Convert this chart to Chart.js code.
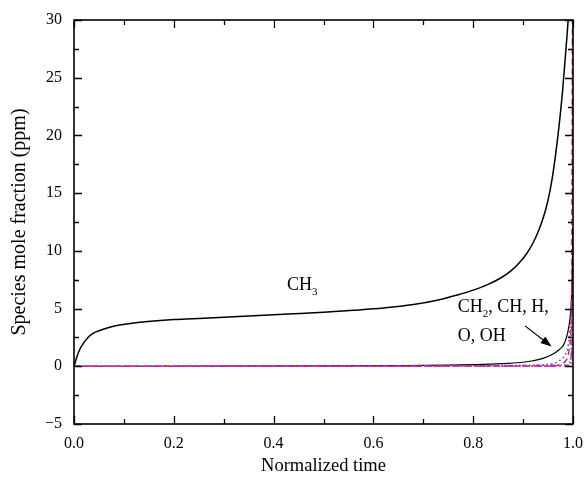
<!DOCTYPE html>
<html><head><meta charset="utf-8">
<script src="https://cdn.jsdelivr.net/npm/chart.js@4/dist/chart.umd.min.js"></script>
<style>html,body{margin:0;padding:0;background:#fff}canvas{display:block}</style>
</head><body>
<canvas id="c" width="585" height="481"></canvas>
<script>
const FONT = '"Liberation Serif","Times New Roman",serif';

// Axis ticks
const xTickValues = [0, 0.2, 0.4, 0.6, 0.8, 1.0];
const yTickValues = [-5, 0, 5, 10, 15, 20, 25, 30];

// CH3 (black solid)
const tCH3 = [0, 0.006, 0.012, 0.019, 0.028, 0.039, 0.05, 0.06, 0.075, 0.092, 0.12, 0.16, 0.2, 0.26, 0.32, 0.38, 0.44, 0.5, 0.56, 0.62, 0.68, 0.73, 0.77, 0.8, 0.83, 0.855, 0.875, 0.892, 0.907, 0.92, 0.931, 0.941, 0.95, 0.958, 0.965, 0.972, 0.979, 0.985, 0.991, 0.997];
const vCH3 = [0, 0.85, 1.5, 2.0, 2.5, 2.87, 3.08, 3.23, 3.42, 3.58, 3.76, 3.93, 4.05, 4.17, 4.3, 4.43, 4.55, 4.68, 4.85, 5.05, 5.35, 5.75, 6.2, 6.6, 7.1, 7.65, 8.25, 8.95, 9.75, 10.7, 11.75, 12.95, 14.4, 16.2, 18.3, 20.8, 23.8, 27.0, 30.5, 36];
// CH2 (black thin)
const tCH2 = [0, 0.3, 0.5, 0.65, 0.75, 0.82, 0.87, 0.9, 0.92, 0.94, 0.955, 0.965, 0.974, 0.981, 0.987, 0.992, 0.995, 0.998, 1.0];
const vCH2 = [0, 0.01, 0.03, 0.06, 0.1, 0.16, 0.25, 0.35, 0.48, 0.68, 0.95, 1.2, 1.5, 1.85, 2.5, 3.5, 4.6, 7, 12];
// CH (blue dotted)
const tCH = [0, 0.85, 0.9, 0.93, 0.95, 0.965, 0.975, 0.983, 0.99, 0.994, 0.997, 1.0];
const vCH = [0, 0.03, 0.06, 0.1, 0.17, 0.3, 0.55, 0.9, 1.7, 3.1, 4.6, 6.5];
// H (red dashed)
const tH = [0, 0.95, 0.97, 0.98, 0.986, 0.99, 0.993, 0.996, 0.9975, 0.999];
const vH = [0, 0.02, 0.08, 0.25, 0.5, 0.85, 1.7, 3.5, 9, 34];
// O (magenta dash-dot)
const tO = [0, 0.996, 0.998, 1.004, 1.005];
const vO = [0, 0, 5.2, 5.2, 0];
// OH (purple dash-dot-dot)
const tOH = [0, 0.99, 0.996, 1.0];
const vOH = [0, 0.1, 0.8, 2.5];

// Annotations (text parts: [text, isSubscript]) and anchor in data units
const labelCH3 = [['CH', false], ['3', true]];
const labelCH3At = [0.427, 6.62];
const labelGroup1 = [['CH', false], ['2', true], [', CH, H,', false]];
const labelGroup1At = [0.769, 4.72];
const labelGroup2 = [['O, OH', false]];
const labelGroup2At = [0.769, 2.23];
const arrowFrom = [0.904, 3.5];
const arrowTo = [0.957, 1.71];

const pts = (t, v) => t.map((x, i) => ({x, y: v[i]}));

const annPlugin = {
  id: 'ann',
  afterDatasetsDraw(chart) {
    const {ctx, chartArea: a, scales: {x, y}} = chart;
    ctx.save();
    ctx.strokeStyle = '#000';
    ctx.lineWidth = 1.6;
    ctx.strokeRect(a.left, a.top, a.right - a.left, a.bottom - a.top);
    ctx.lineWidth = 1.3;
    ctx.beginPath();
    const yStep = (yTickValues[1] - yTickValues[0]) / 2;
    for (let v = yTickValues[0], i = 0; v <= yTickValues[yTickValues.length - 1] + 1e-9; v += yStep, i++) {
      const py = Math.round(y.getPixelForValue(v)) + 0.5;
      const len = i % 2 === 0 ? 8 : 5;
      ctx.moveTo(a.left, py); ctx.lineTo(a.left + len, py);
      ctx.moveTo(a.right, py); ctx.lineTo(a.right - len, py);
    }
    const xStep = (xTickValues[1] - xTickValues[0]) / 2;
    for (let v = xTickValues[0], i = 0; v <= xTickValues[xTickValues.length - 1] + 1e-9; v += xStep, i++) {
      const px = Math.round(x.getPixelForValue(v)) + 0.5;
      const len = i % 2 === 0 ? 8 : 5;
      ctx.moveTo(px, a.bottom); ctx.lineTo(px, a.bottom - len);
      ctx.moveTo(px, a.top); ctx.lineTo(px, a.top + len);
    }
    ctx.stroke();

    ctx.fillStyle = '#000';
    ctx.textBaseline = 'alphabetic';
    ctx.textAlign = 'left';
    const drawParts = (parts, at) => {
      let px = x.getPixelForValue(at[0]);
      const py = y.getPixelForValue(at[1]);
      parts.forEach(([txt, sub]) => {
        ctx.font = (sub ? '11px ' : '18px ') + FONT;
        ctx.fillText(txt, px, sub ? py + 5 : py);
        px += ctx.measureText(txt).width;
      });
    };
    drawParts(labelCH3, labelCH3At);
    drawParts(labelGroup1, labelGroup1At);
    drawParts(labelGroup2, labelGroup2At);

    const x1 = x.getPixelForValue(arrowFrom[0]), y1 = y.getPixelForValue(arrowFrom[1]);
    const x2 = x.getPixelForValue(arrowTo[0]), y2 = y.getPixelForValue(arrowTo[1]);
    const ang = Math.atan2(y2 - y1, x2 - x1);
    const hl = 11, hw = 4;
    const bx = x2 - hl * Math.cos(ang), by = y2 - hl * Math.sin(ang);
    ctx.lineWidth = 1.2;
    ctx.beginPath(); ctx.moveTo(x1, y1); ctx.lineTo(bx, by); ctx.stroke();
    ctx.beginPath();
    ctx.moveTo(x2, y2);
    ctx.lineTo(bx + hw * Math.sin(ang), by - hw * Math.cos(ang));
    ctx.lineTo(bx - hw * Math.sin(ang), by + hw * Math.cos(ang));
    ctx.closePath(); ctx.fill();
    ctx.restore();
  }
};

const common = {pointRadius: 0, fill: false, tension: 0, cubicInterpolationMode: 'monotone'};

new Chart(document.getElementById('c'), {
  type: 'line',
  data: {
    datasets: [
      {...common, label: 'CH3', data: pts(tCH3, vCH3), borderColor: '#000', borderWidth: 1.5, order: 0},
      {...common, label: 'CH2', data: pts(tCH2, vCH2), borderColor: '#000', borderWidth: 1.2, order: 5},
      {...common, label: 'CH', data: pts(tCH, vCH), borderColor: '#3a55d0', borderWidth: 1.6, borderDash: [1.5, 3], order: 3},
      {...common, label: 'H', data: pts(tH, vH), borderColor: '#e8202a', borderWidth: 1.4, borderDash: [6, 4], order: 2},
      {...common, label: 'OH', data: pts(tOH, vOH), borderColor: '#7a2aa0', borderWidth: 1.3, borderDash: [5, 2, 1.5, 2, 1.5, 2], order: 4},
      {...common, label: 'O', data: pts(tO, vO), borderColor: '#d030d0', borderWidth: 1.4, borderDash: [6, 3, 2, 3], order: 1, cubicInterpolationMode: 'default', clip: {left: 0, top: 0, right: 6, bottom: 0}}
    ]
  },
  options: {
    responsive: false,
    animation: false,
    devicePixelRatio: 1,
    layout: {padding: {top: 20, right: 12, left: 0, bottom: 0}},
    plugins: {legend: {display: false}, tooltip: {enabled: false}},
    scales: {
      x: {
        type: 'linear', min: 0, max: 1,
        grid: {display: false, drawTicks: false},
        border: {display: false},
        afterBuildTicks: s => { s.ticks = xTickValues.map(v => ({value: v})); },
        afterFit: s => { s.height = 57; s.paddingLeft = 0; s.paddingRight = 0; },
        ticks: {padding: 10, color: '#000', font: {family: FONT, size: 16}, maxRotation: 0, autoSkip: false,
          callback: v => Number(v).toFixed(1)},
        title: {display: true, text: 'Normalized time', color: '#000', font: {family: FONT, size: 18.5}, padding: {top: 0, bottom: 4}}
      },
      y: {
        type: 'linear', min: -5, max: 30,
        grid: {display: false, drawTicks: false},
        border: {display: false},
        afterBuildTicks: s => { s.ticks = yTickValues.map(v => ({value: v})); },
        afterFit: s => { s.width = 74; s.paddingTop = 0; s.paddingBottom = 0; },
        ticks: {padding: 12, color: '#000', font: {family: FONT, size: 16}, autoSkip: false,
          callback: v => v < 0 ? '\u2212' + Math.abs(v) : String(v)},
        title: {display: true, text: 'Species mole fraction (ppm)', color: '#000', font: {family: FONT, size: 20}, padding: {top: 8, bottom: 0}}
      }
    }
  },
  plugins: [annPlugin]
});
</script>
</body></html>
